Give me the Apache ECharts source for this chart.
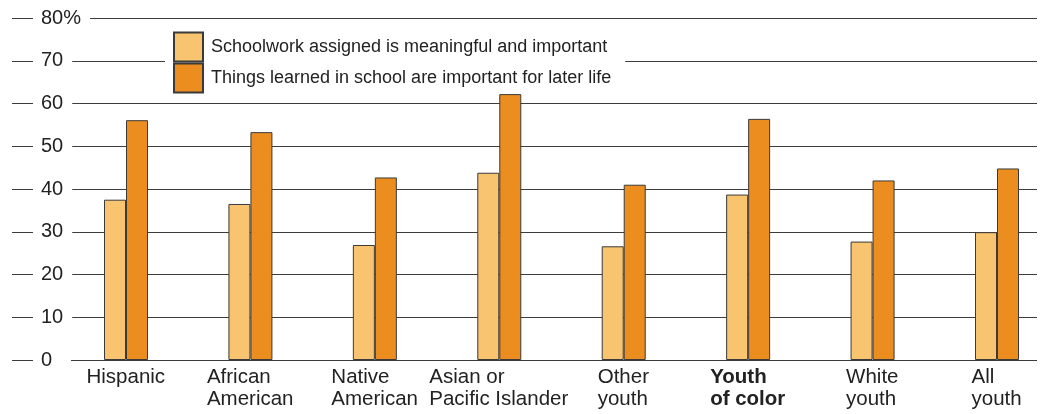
<!DOCTYPE html>
<html>
<head>
<meta charset="utf-8">
<script src="https://cdn.jsdelivr.net/npm/echarts@6/dist/echarts.min.js"></script>
<style>
html,body{margin:0;padding:0;background:#fff;}
#chart{width:1040px;height:414px;}
</style>
</head>
<body>
<div id="chart"></div>
<script>
const categories = ['Hispanic', 'African\nAmerican', 'Native\nAmerican', 'Asian or\nPacific Islander', 'Other\nyouth', 'Youth\nof color', 'White\nyouth', 'All\nyouth'];
const boldCategories = ['Youth\nof color'];
const seriesNames = ['Schoolwork assigned is meaningful and important', 'Things learned in school are important for later life'];
const meaningful = [37.5, 36.5, 26.9, 43.8, 26.6, 38.7, 27.7, 29.9];
const laterLife = [56.1, 53.3, 42.7, 62.2, 41.0, 56.4, 42.0, 44.8];
const yMin = 0, yMax = 80, yStep = 10;
const yTopLabel = '80%';

const FONT = '"Liberation Sans", Arial, Helvetica, sans-serif';
const TEXT = '#222';
const GRIDC = '#3c3c3c';
const CAT_FS = 20.5;

// measure label widths so multi-line labels are left aligned within a centred block
const measureCtx = document.createElement('canvas').getContext('2d');
const rich = {};
categories.forEach((c, i) => {
  const bold = boldCategories.includes(c);
  measureCtx.font = (bold ? 'bold ' : '') + CAT_FS + 'px ' + FONT;
  const w = Math.max(...c.split('\n').map(l => measureCtx.measureText(l).width));
  rich['c' + i] = {
    width: Math.ceil(w), align: 'left', fontSize: CAT_FS, lineHeight: 22,
    fontFamily: FONT, fontWeight: bold ? 'bold' : 'normal', color: TEXT
  };
});

const chart = echarts.init(document.getElementById('chart'), null, {renderer: 'canvas'});
const gridTop = 18, gridBottom = 54;
chart.setOption({
  animation: false,
  backgroundColor: '#fff',
  legend: {
    orient: 'vertical', left: 165, top: 31.5,
    padding: [0, 14, 0, 8], itemGap: 0,
    itemWidth: 29, itemHeight: 29, icon: 'rect',
    backgroundColor: '#fff',
    textStyle: {fontSize: 18, fontFamily: FONT, color: TEXT, padding: [0, 0, 0, 3]},
    data: seriesNames,
    z: 10
  },
  grid: [
    {left: 126, right: 43, top: gridTop, bottom: gridBottom},
    {left: 71, right: 3, top: gridTop, bottom: gridBottom},
    {left: 33, width: 10, top: gridTop, bottom: gridBottom}
  ],
  xAxis: [
    {
      type: 'category', gridIndex: 0, data: categories, boundaryGap: false,
      axisLine: {show: false}, axisTick: {show: false},
      axisLabel: {
        interval: 0, margin: 6,
        formatter: (v, i) => v.split('\n').map(l => '{c' + i + '|' + l + '}').join('\n'),
        rich: rich
      }
    },
    {type: 'value', gridIndex: 1, show: false},
    {type: 'value', gridIndex: 2, show: false}
  ],
  yAxis: [
    {type: 'value', gridIndex: 0, min: yMin, max: yMax, interval: yStep, show: false},
    {
      type: 'value', gridIndex: 1, min: yMin, max: yMax, interval: yStep,
      axisLine: {show: false}, axisTick: {show: false}, axisLabel: {show: false},
      splitLine: {show: true, lineStyle: {color: GRIDC, width: 1}}
    },
    {
      type: 'value', gridIndex: 2, min: yMin, max: yMax, interval: yStep, z: 5,
      axisLine: {show: false}, splitLine: {show: false},
      axisTick: {show: true, inside: false, length: 21, lineStyle: {color: GRIDC, width: 1}},
      axisLabel: {
        inside: true, margin: 8, align: 'left',
        fontSize: 20, fontFamily: FONT, color: TEXT,
        backgroundColor: '#fff', padding: [0, 9, 0, 0],
        formatter: v => v === yMax ? yTopLabel : String(v)
      }
    }
  ],
  series: [
    {
      name: seriesNames[0], type: 'bar', xAxisIndex: 0, yAxisIndex: 0,
      data: meaningful, barWidth: 22, barGap: '0%',
      itemStyle: {color: '#F8C46F', borderColor: '#3a3a3a', borderWidth: 1}
    },
    {
      name: seriesNames[1], type: 'bar', xAxisIndex: 0, yAxisIndex: 0,
      data: laterLife, barWidth: 22, barGap: '0%',
      itemStyle: {color: '#EB8D1F', borderColor: '#3a3a3a', borderWidth: 1}
    }
  ]
});
</script>
</body>
</html>
